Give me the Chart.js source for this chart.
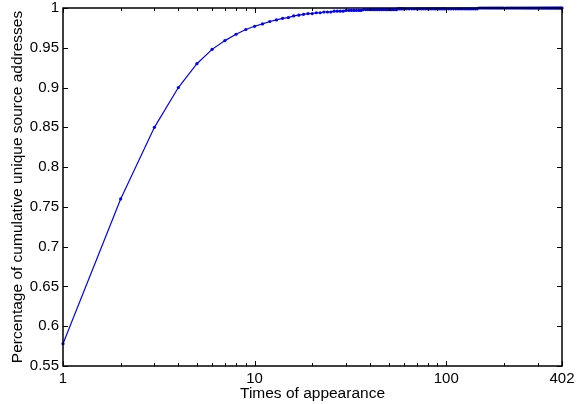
<!DOCTYPE html>
<html>
<head>
<meta charset="utf-8">
<script src="https://cdn.jsdelivr.net/npm/chart.js@4.4.1/dist/chart.umd.min.js"></script>
<style>
  html, body { margin: 0; padding: 0; background: #fff; }
  #wrap { width: 585px; height: 404px; position: relative; }
</style>
</head>
<body>
<div id="wrap"><canvas id="cdfChart"></canvas></div>
<script>
// times of appearance (x) and cumulative share of unique source addresses (y)
const times = [
  1, 2, 3, 4, 5, 6, 7, 8, 9, 10,
  11, 12, 13, 14, 15, 16, 17, 18, 19, 20,
  21, 22, 23, 24, 25, 26, 27, 28, 29, 30,
  31, 32, 33, 34, 35, 36, 37, 38, 39, 40,
  41, 42, 43, 44, 45, 46, 47, 48, 49, 50,
  51, 52, 53, 54, 55, 56, 57, 58, 59, 60,
  62, 64, 66, 68, 70, 72, 74, 76, 78, 80,
  82, 84, 86, 88, 90, 92, 94, 96, 98, 100,
  103, 106, 109, 112, 115, 118, 121, 124, 127, 130, 133,
  136, 139, 142, 145, 148, 151, 154, 157, 160, 163, 166,
  169, 172, 175, 178, 181, 184, 187, 190, 193, 196, 199,
  204, 208, 212, 216, 220, 224, 228, 232, 236, 240,
  244, 248, 252, 256, 260, 264, 268, 272, 276, 280,
  284, 288, 292, 296, 300, 304, 308, 312, 316, 320,
  324, 328, 332, 336, 340, 344, 348, 352, 356, 360,
  364, 368, 372, 376, 380, 384, 388, 392, 396, 400,
  402
];
const share = [
  0.578, 0.760, 0.850, 0.900, 0.930, 0.948, 0.959, 0.967, 0.973, 0.977,
  0.980, 0.983, 0.985, 0.987, 0.988, 0.990, 0.991, 0.992, 0.993, 0.993,
  0.994, 0.994, 0.995, 0.995, 0.995, 0.996, 0.996, 0.996, 0.996, 0.997,
  0.997, 0.997, 0.997, 0.997, 0.997, 0.997, 0.998, 0.998, 0.998, 0.998,
  0.998, 0.998, 0.998, 0.998, 0.998, 0.998, 0.998, 0.998, 0.998, 0.998,
  0.998, 0.998, 0.998, 0.998, 0.998, 0.999, 0.999, 0.999, 0.999, 0.999,
  0.999, 0.999, 0.999, 0.999, 0.999, 0.999, 0.999, 0.999, 0.999, 0.999,
  0.999, 0.999, 0.999, 0.999, 0.999, 0.999, 0.999, 0.999, 0.999, 0.999,
  0.999, 0.999, 0.999, 0.999, 0.999, 0.999, 0.999, 0.999, 0.999, 0.999, 0.999,
  0.999, 0.999, 0.999, 0.999, 1, 1, 1, 1, 1, 1, 1,
  1, 1, 1, 1, 1, 1, 1, 1, 1, 1, 1,
  1, 1, 1, 1, 1, 1, 1, 1, 1, 1,
  1, 1, 1, 1, 1, 1, 1, 1, 1, 1,
  1, 1, 1, 1, 1, 1, 1, 1, 1, 1,
  1, 1, 1, 1, 1, 1, 1, 1, 1, 1,
  1, 1, 1, 1, 1, 1, 1, 1, 1, 1,
  1
];

const xTickLabels = [1, 10, 100, 402];
const xMinorTicks = [2, 3, 4, 5, 6, 7, 8, 9, 20, 30, 40, 50, 60, 70, 80, 90, 200, 300, 400];
const yTicks = [0.55, 0.6, 0.65, 0.7, 0.75, 0.8, 0.85, 0.9, 0.95, 1];

const xTitle = 'Times of appearance';
const yTitle = 'Percentage of cumulative unique source addresses';

const FONT = 'Liberation Sans, Arial, Helvetica, sans-serif';

// matlab style box with ticks pointing inwards
const boxTicks = {
  id: 'boxTicks',
  afterDatasetsDraw(chart) {
    const { ctx, chartArea: a, scales: { x, y } } = chart;
    ctx.save();
    ctx.strokeStyle = '#000';
    ctx.lineWidth = 1;
    ctx.beginPath();
    xTickLabels.concat(xMinorTicks).forEach(v => {
      const px = Math.round(x.getPixelForValue(v)) + 0.5;
      const len = xTickLabels.includes(v) ? 5 : 3;
      ctx.moveTo(px, a.bottom); ctx.lineTo(px, a.bottom - len);
      ctx.moveTo(px, a.top); ctx.lineTo(px, a.top + len);
    });
    yTicks.forEach(v => {
      const py = Math.round(y.getPixelForValue(v)) + 0.5;
      ctx.moveTo(a.left, py); ctx.lineTo(a.left + 5, py);
      ctx.moveTo(a.right, py); ctx.lineTo(a.right - 5, py);
    });
    ctx.stroke();
    ctx.lineWidth = 1.5;
    ctx.strokeRect(a.left, a.top, a.right - a.left, a.bottom - a.top);
    ctx.restore();
  }
};

new Chart(document.getElementById('cdfChart'), {
  type: 'line',
  data: {
    datasets: [{
      data: times.map((t, i) => ({ x: t, y: share[i] })),
      borderColor: '#0000ff',
      backgroundColor: '#0000ff',
      borderWidth: 1.2,
      pointRadius: 1.6,
      pointBorderWidth: 0,
      pointBackgroundColor: '#0000ff',
      tension: 0,
      fill: false,
      clip: 4
    }]
  },
  options: {
    responsive: true,
    maintainAspectRatio: false,
    animation: false,
    events: [],
    layout: { padding: { left: 0, right: 23, top: 8, bottom: 0 } },
    plugins: {
      legend: { display: false },
      tooltip: { enabled: false }
    },
    scales: {
      x: {
        type: 'logarithmic',
        min: 1,
        max: 402,
        afterBuildTicks: s => { s.ticks = xTickLabels.map(v => ({ value: v })); },
        afterFit: s => { s.height = 38; s.paddingLeft = 0; s.paddingRight = 0; },
        grid: { display: false, drawTicks: false },
        border: { display: false },
        ticks: {
          color: '#000',
          padding: 4,
          autoSkip: false,
          maxRotation: 0,
          font: { family: FONT, size: 15 },
          callback: v => String(v)
        },
        title: {
          display: true,
          text: xTitle,
          color: '#000',
          font: { family: FONT, size: 15.5 },
          padding: { top: 0, bottom: 1 }
        }
      },
      y: {
        type: 'linear',
        min: 0.55,
        max: 1,
        afterBuildTicks: s => { s.ticks = yTicks.map(v => ({ value: v })); },
        afterFit: s => { s.width = 63; s.paddingTop = 0; s.paddingBottom = 0; },
        grid: { display: false, drawTicks: false },
        border: { display: false },
        ticks: {
          color: '#000',
          padding: 4,
          font: { family: FONT, size: 15 },
          callback: v => String(parseFloat(Number(v).toFixed(2)))
        },
        title: {
          display: true,
          text: yTitle,
          color: '#000',
          font: { family: FONT, size: 15.5 },
          padding: { top: 8, bottom: 0 }
        }
      }
    }
  },
  plugins: [boxTicks]
});
</script>
</body>
</html>
